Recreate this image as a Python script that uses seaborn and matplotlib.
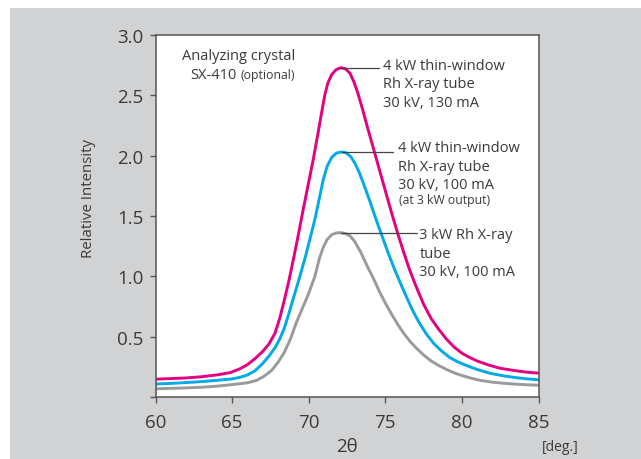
import pandas as pd
import matplotlib.pyplot as plt
import seaborn as sns
from matplotlib.patches import Rectangle

# -----------------------
# Data
# -----------------------
TUBES = ["4 kW 130 mA", "4 kW 100 mA", "3 kW 100 mA"]
COLORS = ["#e4007f", "#00a9e8", "#999a9c"]

pink_x = [60.0, 61.0, 62.0, 63.0, 64.0, 64.9, 65.5, 66.0, 66.5, 67.0, 67.4, 67.8,
          68.1, 68.4, 68.7, 69.0, 69.3, 69.65, 70.0, 70.3, 70.6, 70.85, 71.05, 71.25,
          71.5, 71.8, 72.1, 72.4, 72.7, 72.95, 73.2, 73.5, 73.8, 74.2, 74.6, 75.0,
          75.4, 75.8, 76.2, 76.6, 77.0, 77.5, 78.0, 78.5, 79.0, 79.5, 80.0, 80.5,
          81.0, 81.8, 82.5, 83.5, 84.3, 85.0]
pink_y = [0.150, 0.155, 0.160, 0.170, 0.185, 0.205, 0.235, 0.270, 0.320, 0.380, 0.440, 0.530,
          0.650, 0.800, 0.960, 1.140, 1.330, 1.560, 1.780, 1.970, 2.180, 2.360, 2.500, 2.600,
          2.670, 2.712, 2.727, 2.718, 2.680, 2.610, 2.520, 2.390, 2.250, 2.070, 1.890, 1.710,
          1.530, 1.360, 1.200, 1.050, 0.920, 0.770, 0.650, 0.560, 0.480, 0.415, 0.365, 0.330,
          0.300, 0.265, 0.240, 0.220, 0.207, 0.200]

cyan_x = [60.0, 61.0, 62.0, 63.0, 64.0, 65.0, 65.5, 66.0, 66.5, 67.0, 67.4, 67.8,
          68.1, 68.4, 68.7, 69.0, 69.4, 69.8, 70.1, 70.4, 70.7, 70.95, 71.2, 71.5,
          71.8, 72.15, 72.45, 72.75, 73.0, 73.3, 73.6, 74.0, 74.4, 74.8, 75.2, 75.6,
          76.0, 76.4, 76.8, 77.2, 77.7, 78.2, 78.7, 79.2, 79.7, 80.2, 81.0, 81.8,
          82.6, 83.5, 84.3, 85.0]
cyan_y = [0.110, 0.115, 0.122, 0.130, 0.140, 0.152, 0.165, 0.185, 0.220, 0.280, 0.340, 0.410,
          0.480, 0.570, 0.690, 0.820, 0.990, 1.170, 1.320, 1.470, 1.650, 1.800, 1.910, 1.985,
          2.020, 2.030, 2.022, 1.990, 1.940, 1.860, 1.760, 1.620, 1.470, 1.330, 1.190, 1.060,
          0.940, 0.825, 0.715, 0.620, 0.520, 0.440, 0.380, 0.330, 0.295, 0.268, 0.230, 0.200,
          0.180, 0.163, 0.152, 0.145]

grey_x = [60.0, 61.0, 62.0, 63.0, 64.0, 65.0, 66.0, 66.6, 67.1, 67.6, 68.0, 68.4,
          68.8, 69.2, 69.6, 70.0, 70.4, 70.7, 70.95, 71.2, 71.5, 71.8, 72.1, 72.4,
          72.7, 73.0, 73.4, 73.8, 74.2, 74.6, 75.0, 75.4, 75.8, 76.2, 76.6, 77.0,
          77.5, 78.0, 78.5, 79.0, 79.5, 80.0, 80.6, 81.2, 82.0, 83.0, 84.0, 85.0]
grey_y = [0.070, 0.074, 0.078, 0.083, 0.092, 0.105, 0.120, 0.140, 0.175, 0.225, 0.290, 0.370,
          0.480, 0.620, 0.740, 0.860, 1.000, 1.150, 1.240, 1.305, 1.345, 1.360, 1.362, 1.355,
          1.335, 1.290, 1.200, 1.090, 0.990, 0.880, 0.780, 0.690, 0.605, 0.530, 0.465, 0.410,
          0.350, 0.300, 0.262, 0.230, 0.202, 0.180, 0.158, 0.140, 0.125, 0.113, 0.105, 0.100]

x_ticks = [60, 65, 70, 75, 80, 85]
y_ticks = [0, 0.5, 1.0, 1.5, 2.0, 2.5, 3.0]
y_tick_labels = ["", "0.5", "1.0", "1.5", "2.0", "2.5", "3.0"]

df = pd.concat([
    pd.DataFrame({"two_theta": pink_x, "intensity": pink_y, "tube": TUBES[0]}),
    pd.DataFrame({"two_theta": cyan_x, "intensity": cyan_y, "tube": TUBES[1]}),
    pd.DataFrame({"two_theta": grey_x, "intensity": grey_y, "tube": TUBES[2]}),
], ignore_index=True)

sns.set_theme(style="white")
plt.rcParams['font.family'] = ['Open Sans', 'DejaVu Sans']
TXT = "#3a3a3a"
SPINE = "#555555"

fig = plt.figure(figsize=(6.41, 4.60), dpi=100, facecolor="white")
fig.patches.append(Rectangle((10 / 641, 0), 1, 451 / 460, transform=fig.transFigure,
                             facecolor="#d1d2d4", edgecolor="none", zorder=-10))
ax = fig.add_axes([155.5 / 641, 61.7 / 460, 383 / 641, 362.6 / 460])
ax.set_facecolor("white")

sns.lineplot(data=df, x="two_theta", y="intensity", hue="tube", hue_order=TUBES,
             palette=COLORS, estimator=None, legend=False, lw=2.1,
             solid_joinstyle="round", ax=ax)

ax.set_xlim(60, 85)
ax.set_ylim(0, 3.0)
ax.set_xticks(x_ticks)
ax.set_yticks(y_ticks)
ax.set_yticklabels(y_tick_labels)
ax.tick_params(axis="both", direction="out", length=4.5, width=1.0, color=SPINE,
               labelsize=13.5, labelcolor=TXT, pad=4)
ax.tick_params(axis="x", pad=7)
ax.tick_params(bottom=True, left=True, top=False, right=False)
for s in ax.spines.values():
    s.set_color(SPINE)
    s.set_linewidth(1.1)

ax.set_xlabel("2θ", fontsize=13.5, color=TXT, va="center")
ax.xaxis.set_label_coords(0.5, -0.135)
ax.set_ylabel("Relative Intensity", fontsize=10.8, color=TXT, va="center")
ax.yaxis.set_label_coords(-0.176, 0.552)
ax.text(1.057, -0.135, "[deg.]", transform=ax.transAxes, fontsize=10, color=TXT,
        ha="center", va="center")

# leader lines from each peak to its label
ax.plot([72.1, 74.57], [2.727, 2.727], color="#444444", lw=0.9)
ax.plot([72.15, 75.5], [2.03, 2.03], color="#444444", lw=0.9)
ax.plot([72.1, 77.05], [1.36, 1.36], color="#444444", lw=0.9)

ax.text(74.83, 2.594, "4 kW thin-window\nRh X-ray tube\n30 kV, 130 mA",
        fontsize=10.5, color=TXT, ha="left", va="center", linespacing=1.3)
ax.text(75.85, 1.912, "4 kW thin-window\nRh X-ray tube\n30 kV, 100 mA",
        fontsize=10.5, color=TXT, ha="left", va="center", linespacing=1.3)
ax.text(75.87, 1.636, "(at 3 kW output)", fontsize=8.8, color=TXT, ha="left", va="center")
ax.text(77.22, 1.192, "3 kW Rh X-ray\ntube\n30 kV, 100 mA",
        fontsize=10.5, color=TXT, ha="left", va="center", linespacing=1.3)

ax.text(69.1, 2.828, "Analyzing crystal", fontsize=10.5, color=TXT, ha="right", va="center")
ax.text(65.3, 2.668, "SX-410", fontsize=10.5, color=TXT, ha="right", va="center")
ax.text(69.1, 2.668, "(optional)", fontsize=8.8, color=TXT, ha="right", va="center")

fig.savefig("out.png", dpi=100, facecolor=fig.get_facecolor())
